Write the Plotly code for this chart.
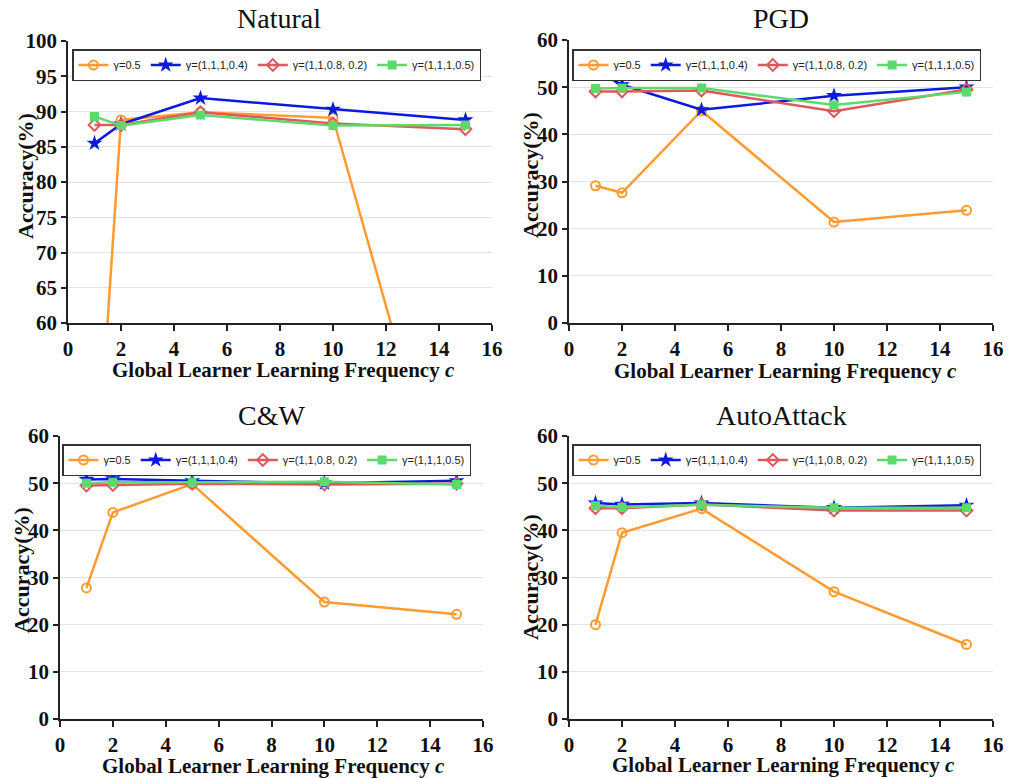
import plotly.graph_objects as go

W, H = 1016, 778

c_vals = [1, 2, 5, 10, 15]
series_names = ["γ=0.5", "γ=(1,1,1,0.4)", "γ=(1,1,0.8, 0.2)", "γ=(1,1,1,0.5)"]

natural_g05 = [32.3, 88.8, 89.9, 89.1, 22.4]
natural_g04 = [85.5, 88.2, 91.9, 90.3, 88.8]
natural_g082 = [88.1, 88.1, 89.9, 88.3, 87.5]
natural_g05b = [89.3, 88.0, 89.5, 88.0, 88.1]

pgd_g05 = [29.1, 27.6, 45.0, 21.4, 23.9]
pgd_g04 = [53.5, 50.5, 45.2, 48.2, 50.0]
pgd_g082 = [49.1, 49.1, 49.3, 44.9, 49.5]
pgd_g05b = [49.7, 49.8, 49.8, 46.2, 49.0]

cw_g05 = [27.8, 43.8, 49.8, 24.8, 22.2]
cw_g04 = [50.8, 50.9, 50.5, 50.0, 50.5]
cw_g082 = [49.5, 49.6, 49.9, 49.7, 49.9]
cw_g05b = [50.0, 50.2, 50.2, 50.3, 49.7]

aa_g05 = [20.0, 39.5, 44.6, 27.0, 15.8]
aa_g04 = [45.8, 45.5, 45.8, 44.8, 45.3]
aa_g082 = [44.7, 44.7, 45.5, 44.2, 44.2]
aa_g05b = [45.2, 44.9, 45.4, 44.8, 44.8]

panel_titles = ["Natural", "PGD", "C&W", "AutoAttack"]
panel_data = [
    [natural_g05, natural_g04, natural_g082, natural_g05b],
    [pgd_g05, pgd_g04, pgd_g082, pgd_g05b],
    [cw_g05, cw_g04, cw_g082, cw_g05b],
    [aa_g05, aa_g04, aa_g082, aa_g05b],
]
y_ranges = [[60, 100], [0, 60], [0, 60], [0, 60]]
y_tickvals = [[60, 65, 70, 75, 80, 85, 90, 95, 100],
              [0, 10, 20, 30, 40, 50, 60],
              [0, 10, 20, 30, 40, 50, 60],
              [0, 10, 20, 30, 40, 50, 60]]
x_ticks = [0, 2, 4, 6, 8, 10, 12, 14, 16]

colors = ["#FF9B30", "#0A1ADF", "#E0575C", "#5CDB6C"]
symbols = ["circle-open", "star", "diamond-open", "square"]
msizes = [9, 12, 9, 7]

# pixel layout of each panel: (x0, x1, ytop, ybottom)
boxes = [(68, 492, 41, 323), (569, 993, 40, 323), (60, 483, 436, 719), (569, 993, 436, 719)]
legend_pos = [(72, 49), (572, 49), (62, 444), (572, 444)]
title_pos = [(279, 18), (781, 18), (271, 415), (781, 415)]
xtitle_pos = [(283, 370), (785, 371), (273, 766), (783, 765)]
ytitle_pos = [(25, 176), (530, 175), (21, 570), (530, 577)]


def px(x):
    return x / W


def py(y):
    return 1 - y / H


def bold(v):
    return f"<b>{v}</b>"


fig = go.Figure()
layout = dict(
    width=W, height=H, margin=dict(l=0, r=0, t=0, b=0, autoexpand=False),
    paper_bgcolor="white", plot_bgcolor="white", showlegend=True,
    annotations=[],
)

serif = "Liberation Serif"
sans = "Liberation Sans"

for i in range(4):
    xa = "xaxis" if i == 0 else f"xaxis{i+1}"
    ya = "yaxis" if i == 0 else f"yaxis{i+1}"
    xr = "x" if i == 0 else f"x{i+1}"
    yr = "y" if i == 0 else f"y{i+1}"
    lg = "legend" if i == 0 else f"legend{i+1}"
    x0, x1, yt, yb = boxes[i]
    for s in range(4):
        fig.add_trace(go.Scatter(
            x=c_vals, y=panel_data[i][s], name=series_names[s],
            mode="lines+markers", xaxis=xr, yaxis=yr, legend=lg,
            line=dict(color=colors[s], width=2.5),
            marker=dict(symbol=symbols[s], size=msizes[s], color=colors[s],
                        line=dict(color=colors[s], width=2 if s != 1 else 0)),
        ))
    layout[xa] = dict(
        domain=[px(x0), px(x1)], anchor=yr, range=[0, 16],
        tickvals=x_ticks, ticktext=[bold(v) for v in x_ticks], automargin=False,
        showgrid=False, zeroline=False, showline=True, linecolor="#222", linewidth=1.5,
        ticks="outside", ticklen=6, tickwidth=1.5, tickcolor="#222",
        tickfont=dict(family=serif, size=21, color="#111"),
    )
    layout[ya] = dict(
        domain=[py(yb), py(yt)], anchor=xr, range=y_ranges[i],
        tickvals=y_tickvals[i], ticktext=[bold(v) for v in y_tickvals[i]], automargin=False,
        showgrid=True, gridcolor="#E3E3E3", gridwidth=1, zeroline=False,
        showline=True, linecolor="#222", linewidth=1.5,
        ticks="outside", ticklen=5, tickwidth=1.5, tickcolor="#222",
        tickfont=dict(family=serif, size=21, color="#111"),
    )
    lx, ly = legend_pos[i]
    layout[lg] = dict(
        orientation="h", x=px(lx), y=py(ly), xanchor="left", yanchor="top",
        bgcolor="white", bordercolor="#333", borderwidth=1.5,
        font=dict(family=sans, size=11, color="#222"),
        itemwidth=30, tracegroupgap=0,
    )
    tx, ty = title_pos[i]
    layout["annotations"].append(dict(
        text=panel_titles[i], x=px(tx), y=py(ty), xref="paper", yref="paper",
        showarrow=False, xanchor="center", yanchor="middle",
        font=dict(family=serif, size=28, color="#111"),
    ))
    ax_, ay_ = xtitle_pos[i]
    layout["annotations"].append(dict(
        text="<b>Global Learner Learning Frequency <i>c</i></b>", x=px(ax_), y=py(ay_),
        xref="paper", yref="paper", showarrow=False, xanchor="center", yanchor="middle",
        font=dict(family=serif, size=21, color="#111"),
    ))
    bx, by = ytitle_pos[i]
    layout["annotations"].append(dict(
        text="<b>Accuracy(%)</b>", x=px(bx), y=py(by), xref="paper", yref="paper",
        showarrow=False, xanchor="center", yanchor="middle", textangle=-90,
        font=dict(family=serif, size=22, color="#111"),
    ))

fig.update_layout(**layout)
fig.write_html(
    "out.html",
    config={"displayModeBar": False},
    post_script="document.body.style.margin='0';document.body.style.overflow='hidden';",
)
